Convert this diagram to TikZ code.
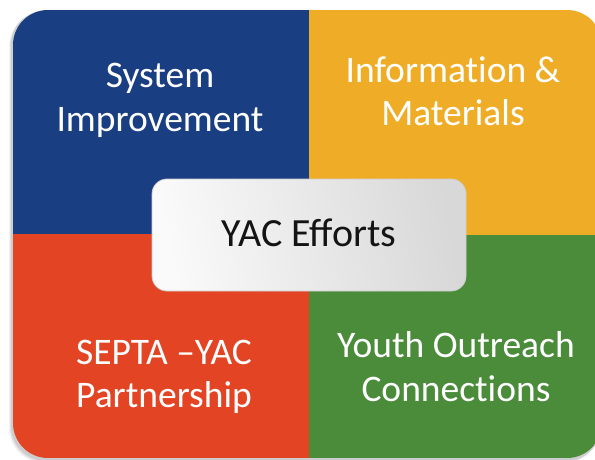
\documentclass[tikz,border=0pt]{standalone}
\usepackage{fontspec}
\setmainfont{Carlito}
\definecolor{qblue}{RGB}{26,62,130}
\definecolor{qyellow}{RGB}{239,173,39}
\definecolor{qred}{RGB}{227,68,35}
\definecolor{qgreen}{RGB}{75,140,58}
\definecolor{boxlight}{RGB}{250,250,250}
\definecolor{boxdark}{RGB}{216,216,216}
\definecolor{boxedge}{RGB}{205,205,205}
\definecolor{ytext}{RGB}{20,20,20}
\begin{document}
\begin{tikzpicture}[x=1pt,y=-1pt,
  lbl/.style={text=white, font=\fontsize{37.5}{43.5}\selectfont, align=center, inner sep=0pt},
  ybox/.style={rounded corners=15pt, draw=boxedge, line width=0.8pt,
    left color=boxlight, right color=boxdark, shading angle=100,
    minimum width=314pt, minimum height=112pt, text=ytext,
    text height=23pt, text depth=0pt,
    font=\fontsize{40}{48}\selectfont, inner sep=0pt},
  shadowlayer/.style={fill=black, rounded corners=35pt}]
\useasboundingbox (0,0) rectangle (595,460);
% soft shadow
\fill[shadowlayer, opacity=0.05] (9,12) rectangle (600,463);
\fill[shadowlayer, opacity=0.07] (10,11) rectangle (600,462);
\fill[shadowlayer, opacity=0.09] (11,10) rectangle (601,461);
% quadrants
\begin{scope}
  \clip[rounded corners=35pt] (13,10) rectangle (602,458);
  \fill[qblue]   (13,10)   rectangle (309,234);
  \fill[qyellow] (309,10)  rectangle (602,235);
  \fill[qred]    (13,234)  rectangle (309,458);
  \fill[qgreen]  (309,235) rectangle (602,458);
\end{scope}
% labels
\node[lbl] (sys)   at (160,100.4)  {System\\Improvement};
\node[lbl] (info)  at (453,91.3)   {Informat\kern0pt ion \&\\Materials};
\node[lbl] (septa) at (164,376.9)  {SEPTA –YAC\\Partnership};
\node[lbl] (youth) at (456,366.75) {Youth Outreach\\Connect\kern0pt ions};
% centre box
\node[ybox] (yac) at (309,235) {YAC Efforts};
\end{tikzpicture}
\end{document}
